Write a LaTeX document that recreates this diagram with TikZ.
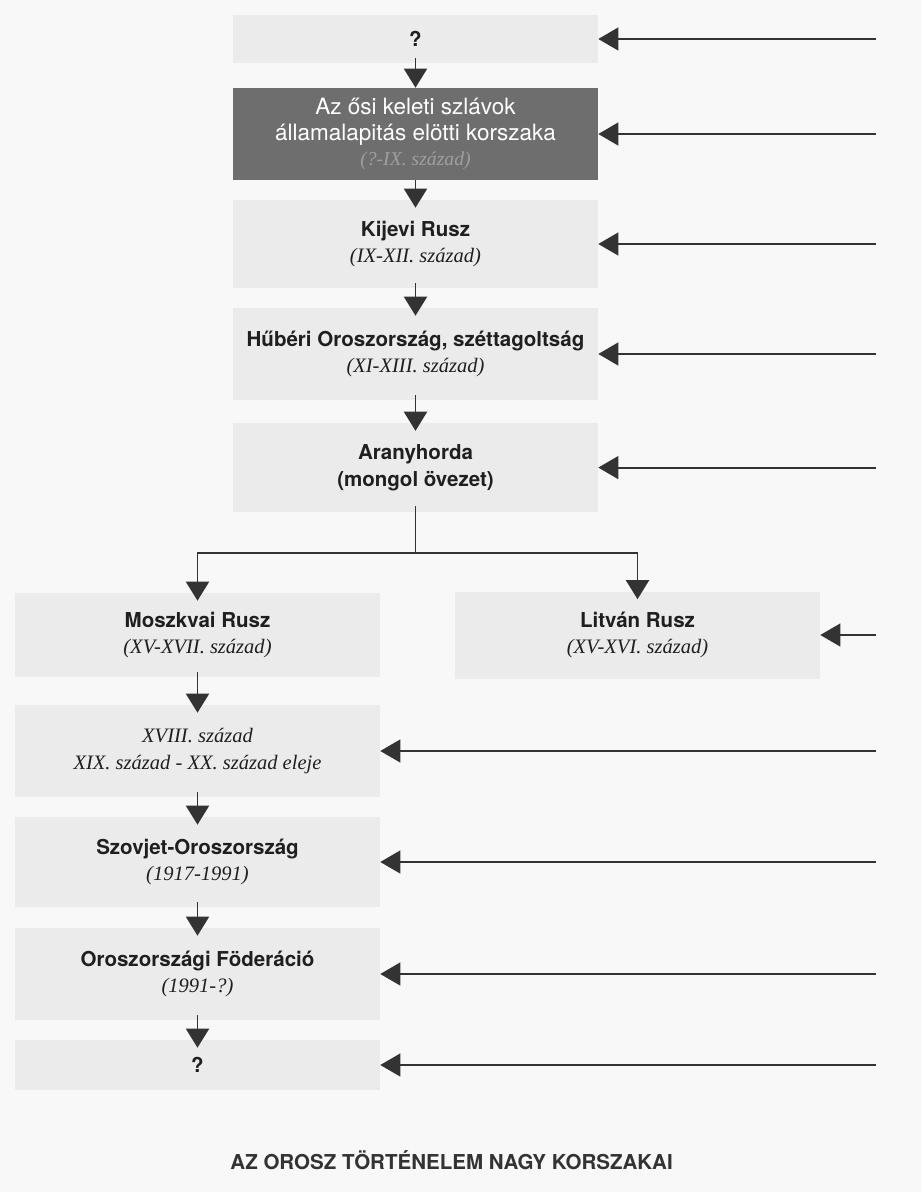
\documentclass[tikz,border=0pt]{standalone}
\usepackage{fontspec}
\setmainfont{TeX Gyre Heros}
\newfontfamily\timesfont{Liberation Serif}
\usetikzlibrary{arrows.meta,positioning}
\definecolor{paper}{HTML}{F8F8F8}
\definecolor{boxgray}{HTML}{EBEBEB}
\definecolor{darkbox}{HTML}{6E6E6E}
\definecolor{ink}{HTML}{333333}
\newcommand{\kor}[1]{{\timesfont\itshape #1}}
\tikzset{
  era/.style={fill=boxgray, minimum width=9.125cm, minimum height=2.25cm, inner sep=0pt,
    align=center, text=black!88, font=\fontsize{14.6}{19}\selectfont},
  flow/.style={draw=ink, line width=1.4pt, -{Triangle[length=0.48cm,width=0.58cm]},
    shorten >=-0.2cm, shorten <=-0.12cm},
  feed/.style={draw=ink, line width=1.3pt, -{Triangle[length=0.5cm,width=0.57cm]}}
}

\begin{document}
\begin{tikzpicture}[node distance=2.75cm, on grid]
   \fill[paper] (0,0) rectangle (23.025,-29.8);
   \coordinate (rim) at (21.9,0);
   % main line
   \node[era, minimum height=1.2cm] (q1) at (10.3875,-0.975) {\textbf{?}};
   \node[era, fill=darkbox, minimum height=2.3cm, text=white, font=\fontsize{16}{18}\selectfont] (osi) [below=2.375cm of q1]
     {Az ősi keleti szlávok\\államalapitás elötti korszaka\\{\fontsize{14}{18}\selectfont\color{gray!75}\kor{(?-IX. század)}}};
   \node[era, minimum height=2.2cm] (kijevi) [below=of osi] {\textbf{Kijevi Rusz}\\\kor{(IX-XII. század)}};
   \node[era, minimum height=2.3cm] (huberi) [below=of kijevi] {\textbf{Hűbéri Oroszország, széttagoltság}\\\kor{(XI-XIII. század)}};
   \node[era, minimum height=2.225cm] (arany) [below=2.84cm of huberi] {\textbf{Aranyhorda}\\\textbf{(mongol övezet)}};
   % two branches
   \node[era, minimum height=2.1cm] (moszk) at (4.9375,-15.875) {\textbf{Moszkvai Rusz}\\\kor{(XV-XVII. század)}};
   \node[era, minimum height=2.175cm] (litvan) [right=11cm of moszk] {\textbf{Litván Rusz}\\\kor{(XV-XVI. század)}};
   \node[era, minimum height=2.3cm] (xviii) [below=2.9cm of moszk] {\kor{XVIII. század}\\\kor{XIX. század - XX. század eleje}};
   \node[era] (szovjet) [below=2.775cm of xviii] {\textbf{Szovjet-Oroszország}\\\kor{(1917-1991)}};
   \node[era, minimum height=2.3cm] (foderacio) [below=2.8cm of szovjet] {\textbf{Oroszországi Föderáció}\\\kor{(1991-?)}};
   \node[era, minimum height=1.25cm] (q2) [below=2.275cm of foderacio] {\textbf{?}};
   \node[font=\fontsize{14.6}{17}\selectfont\bfseries, text=black!80] (title) at (11.29,-29.0) {AZ OROSZ TÖRTÉNELEM NAGY KORSZAKAI};

   \draw[flow, shorten >=0pt] (q1.south) -- (osi.north);
   \draw[flow, shorten <=0pt] (osi.south) -- (kijevi.north);
   \foreach \a/\b in {kijevi/huberi,huberi/arany,moszk/xviii,xviii/szovjet,szovjet/foderacio,foderacio/q2}
     \draw[flow] (\a.south) -- (\b.north);

   % split below the Golden Horde
   \coordinate[below=1.025cm of arany.south] (split);
   \draw[draw=ink, line width=1.4pt] ([yshift=0.17cm]arany.south) -- (split);
   \draw[flow, shorten <=0pt] (split) -| (moszk.north);
   \draw[flow, shorten <=0pt] (split) -| (litvan.north);

   \foreach \n in {q1,osi,kijevi,huberi,arany,litvan,xviii,szovjet,foderacio,q2}
     \draw[feed] (\n.east -| rim) -- (\n.east);
\end{tikzpicture}
\end{document}
